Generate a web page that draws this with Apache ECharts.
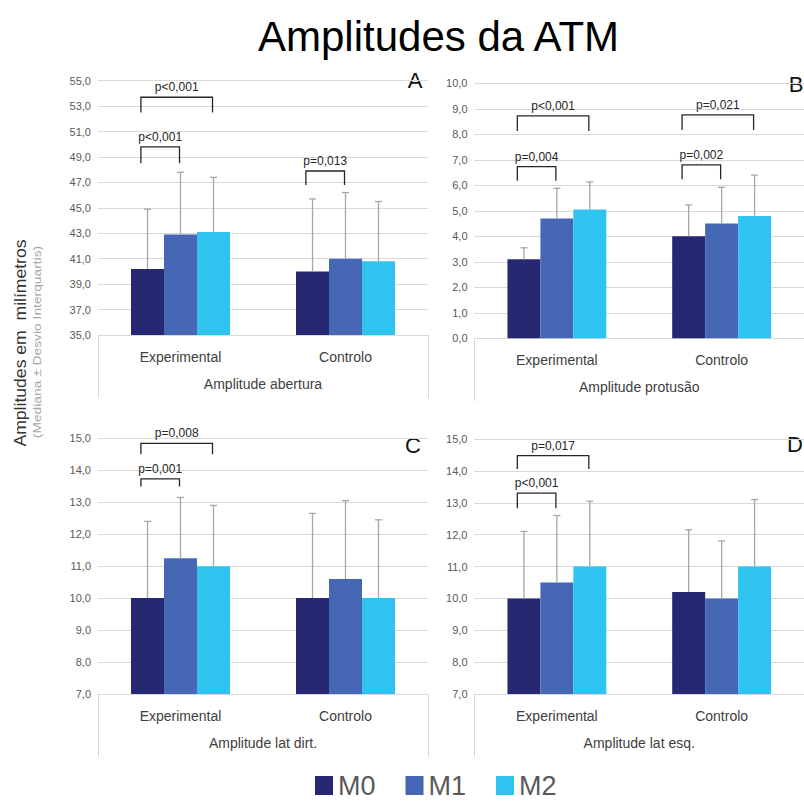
<!DOCTYPE html>
<html>
<head>
<meta charset="utf-8">
<script src="https://cdn.jsdelivr.net/npm/echarts@6/dist/echarts.min.js"></script>
<style>
html,body{margin:0;padding:0;background:#fff;}
#chart{width:804px;height:807px;}
</style>
</head>
<body>
<div id="chart"></div>
<script>
// ---------- DATA ----------
const categories = ['Experimental', 'Controlo'];
const seriesNames = ['M0', 'M1', 'M2'];
const panelNames = ['Amplitude abertura', 'Amplitude protusão', 'Amplitude lat dirt.', 'Amplitude lat esq.'];
const panelLetters = ['A', 'B', 'C', 'D'];
const titleText = 'Amplitudes da ATM';
const yTitle = 'Amplitudes em  milímetros';
const ySubTitle = '(Mediana ± Desvio Interquartis)';

// medians (bars) and upper whisker ends (median + IQR deviation)
const aberturaM0 = [40.2, 40.0];
const aberturaM1 = [42.9, 41.0];
const aberturaM2 = [43.1, 40.8];
const aberturaTopM0 = [44.9, 45.7];
const aberturaTopM1 = [47.8, 46.2];
const aberturaTopM2 = [47.4, 45.5];

const protusaoM0 = [3.1, 4.0];
const protusaoM1 = [4.7, 4.5];
const protusaoM2 = [5.05, 4.8];
const protusaoTopM0 = [3.55, 5.23];
const protusaoTopM1 = [5.88, 5.92];
const protusaoTopM2 = [6.13, 6.4];

const latDirM0 = [10.0, 10.0];
const latDirM1 = [11.25, 10.6];
const latDirM2 = [11.0, 10.0];
const latDirTopM0 = [12.4, 12.65];
const latDirTopM1 = [13.15, 13.05];
const latDirTopM2 = [12.9, 12.45];

const latEsqM0 = [10.0, 10.2];
const latEsqM1 = [10.5, 10.0];
const latEsqM2 = [11.0, 11.0];
const latEsqTopM0 = [12.1, 12.15];
const latEsqTopM1 = [12.6, 11.8];
const latEsqTopM2 = [13.05, 13.1];

// significance brackets: [category, fromSeries, toSeries, topValue, legEndValue, label]
const aberturaBrackets = [
  [0, 0, 1, 49.8, 48.5, 'p<0,001'],
  [0, 0, 2, 53.7, 52.5, 'p<0,001'],
  [1, 0, 1, 47.9, 46.8, 'p=0,013']
];
const protusaoBrackets = [
  [0, 0, 1, 6.73, 6.18, 'p=0,004'],
  [0, 0, 2, 8.72, 8.13, 'p<0,001'],
  [1, 0, 1, 6.8, 6.24, 'p=0,002'],
  [1, 0, 2, 8.76, 8.17, 'p=0,021']
];
const latDirBrackets = [
  [0, 0, 1, 13.73, 13.49, 'p=0,001'],
  [0, 0, 2, 14.84, 14.5, 'p=0,008']
];
const latEsqBrackets = [
  [0, 0, 1, 13.3, 12.83, 'p<0,001'],
  [0, 0, 2, 14.48, 14.06, 'p=0,017']
];

const yMins = [35, 0, 7, 7];
const yMaxs = [55, 10, 15, 15];
const ySteps = [2, 1, 1, 1];

// ---------- BUILD ----------
const panels = [
  { med: [aberturaM0, aberturaM1, aberturaM2], top: [aberturaTopM0, aberturaTopM1, aberturaTopM2], br: aberturaBrackets },
  { med: [protusaoM0, protusaoM1, protusaoM2], top: [protusaoTopM0, protusaoTopM1, protusaoTopM2], br: protusaoBrackets },
  { med: [latDirM0, latDirM1, latDirM2], top: [latDirTopM0, latDirTopM1, latDirTopM2], br: latDirBrackets },
  { med: [latEsqM0, latEsqM1, latEsqM2], top: [latEsqTopM0, latEsqTopM1, latEsqTopM2], br: latEsqBrackets }
];
const colors = ['#262872', '#4667b4', '#2fc3ef'];
const FONT = 'Liberation Sans, Arial, sans-serif';

const grids = [
  { left: 98, top: 80.7, width: 330, height: 254.3 },
  { left: 474.5, top: 83.3, width: 336, height: 255 },
  { left: 98, top: 438.3, width: 330, height: 255.7 },
  { left: 474.5, top: 439, width: 336, height: 255 }
];
const letterPos = [[415, 80], [796, 84], [413, 445], [795, 444]];

const BAR_FRAC = 0.2; // each bar = 20% of band (barCategoryGap 40%, 3 bars, gap 0)

const xAxes = [], yAxes = [], series = [];
panels.forEach((p, k) => {
  xAxes.push({
    type: 'category', gridIndex: k, data: categories,
    name: panelNames[k], nameLocation: 'middle', nameGap: 42,
    nameTextStyle: { fontFamily: FONT, fontSize: 14, color: '#404040' },
    axisLine: { lineStyle: { color: '#d9d9d9', width: 1 } },
    axisTick: { show: true, length: 63, interval: function (i) { return i === 0; }, lineStyle: { color: '#d9d9d9' } },
    axisLabel: { fontFamily: FONT, fontSize: 14, color: '#404040', margin: 15 }
  });
  yAxes.push({
    type: 'value', gridIndex: k, min: yMins[k], max: yMaxs[k], interval: ySteps[k],
    axisLine: { show: false }, axisTick: { show: false },
    splitLine: { lineStyle: { color: '#d9d9d9', width: 1 } },
    axisLabel: { fontFamily: FONT, fontSize: 11, color: '#595959', margin: 7,
      formatter: v => v.toFixed(1).replace('.', ',') }
  });
  seriesNames.forEach((nm, s) => {
    series.push({
      name: nm, type: 'bar', xAxisIndex: k, yAxisIndex: k,
      data: p.med[s], barGap: '0%', barCategoryGap: '40%',
      itemStyle: { color: colors[s] }, z: 2
    });
  });
  // error bars (upper only)
  const errData = [];
  seriesNames.forEach((nm, s) => {
    categories.forEach((c, ci) => errData.push([ci, s, p.med[s][ci], p.top[s][ci]]));
  });
  series.push({
    type: 'custom', xAxisIndex: k, yAxisIndex: k, z: 3, silent: true,
    encode: { x: 0, y: [2, 3] },
    data: errData,
    renderItem: function (params, api) {
      const ci = api.value(0), s = api.value(1);
      const band = api.size([1, 0])[0];
      const bw = band * BAR_FRAC;
      const p0 = api.coord([ci, api.value(2)]);
      const p1 = api.coord([ci, api.value(3)]);
      const x = p0[0] + (s - 1) * bw;
      const st = { stroke: '#a6a6a6', lineWidth: 1.3 };
      return { type: 'group', children: [
        { type: 'line', shape: { x1: x, y1: p0[1], x2: x, y2: p1[1] }, style: st },
        { type: 'line', shape: { x1: x - 3.5, y1: p1[1], x2: x + 3.5, y2: p1[1] }, style: st }
      ]};
    }
  });
  // significance brackets
  const brs = p.br;
  series.push({
    type: 'custom', xAxisIndex: k, yAxisIndex: k, z: 4, silent: true,
    encode: { x: 0, y: [3, 4] },
    data: brs.map(b => [b[0], b[1], b[2], b[3], b[4]]),
    renderItem: function (params, api) {
      const ci = api.value(0), a = api.value(1), b = api.value(2);
      const band = api.size([1, 0])[0];
      const bw = band * BAR_FRAC;
      const pt = api.coord([ci, api.value(3)]);
      const pl = api.coord([ci, api.value(4)]);
      const xl = pt[0] + (a - 1) * bw - 0.2 * bw;
      const xr = pt[0] + (b - 1) * bw - 0.03 * bw;
      const label = brs[params.dataIndex][5];
      return { type: 'group', children: [
        { type: 'polyline', shape: { points: [[xl, pl[1]], [xl, pt[1]], [xr, pt[1]], [xr, pl[1]]] },
          style: { stroke: '#262626', lineWidth: 1.3, fill: null } },
        { type: 'text', style: { text: label, x: (xl + xr) / 2, y: pt[1] - 10,
          align: 'center', verticalAlign: 'middle', fontFamily: FONT, fontSize: 12, fill: '#262626' } }
      ]};
    }
  });
});

const graphics = panelLetters.map((L, k) => ({
  type: 'text', x: letterPos[k][0], y: letterPos[k][1],
  style: { text: L, align: 'center', verticalAlign: 'middle', fontFamily: FONT, fontSize: 22, fill: '#111' }
}));
graphics.push({
  type: 'text', x: 21, y: 343, rotation: Math.PI / 2, scaleX: 1.1,
  style: { text: yTitle, align: 'center', verticalAlign: 'middle', fontFamily: FONT, fontSize: 16, fill: '#333' }
});
graphics.push({
  type: 'text', x: 37.5, y: 342, rotation: Math.PI / 2, scaleX: 1.38,
  style: { text: ySubTitle, align: 'center', verticalAlign: 'middle', fontFamily: FONT, fontSize: 10, fill: '#a6a6a6' }
});

const chart = echarts.init(document.getElementById('chart'), null, { renderer: 'svg' });
chart.setOption({
  animation: false,
  backgroundColor: '#ffffff',
  title: { text: titleText, left: 253, top: 10,
    textStyle: { fontFamily: FONT, fontSize: 42, fontWeight: 'normal', color: '#000' } },
  legend: {
    data: seriesNames, left: 310, top: 767, icon: 'rect', itemWidth: 18, itemHeight: 19, itemGap: 30,
    textStyle: { fontFamily: FONT, fontSize: 27, color: '#595959' }
  },
  grid: grids.map(g => Object.assign({ containLabel: false }, g)),
  xAxis: xAxes,
  yAxis: yAxes,
  series: series,
  graphic: graphics
});
</script>
</body>
</html>
